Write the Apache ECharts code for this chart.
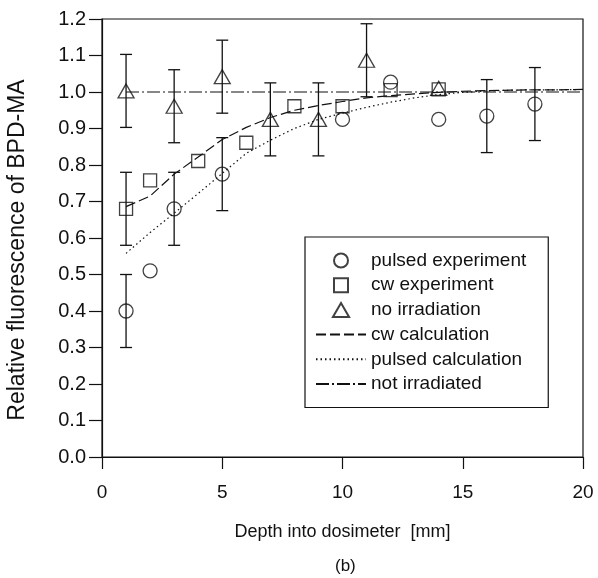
<!DOCTYPE html>
<html>
<head>
<meta charset="utf-8">
<script src="https://cdn.jsdelivr.net/npm/echarts@6/dist/echarts.min.js"></script>
<style>html,body{margin:0;padding:0;background:#fff}#c{width:598px;height:578px}</style>
</head>
<body>
<div id="c"></div>
<script>
// ---- data ----
const xTicks = [0, 5, 10, 15, 20];
const yTicks = [0.0, 0.1, 0.2, 0.3, 0.4, 0.5, 0.6, 0.7, 0.8, 0.9, 1.0, 1.1, 1.2];

const pulsedX = [1, 2, 3, 5, 10, 12, 14, 16, 18];
const pulsedY = [0.40, 0.51, 0.68, 0.775, 0.925, 1.027, 0.925, 0.934, 0.967];
const pulsedErr = [0.1, null, 0.1, 0.1, null, null, null, 0.1, 0.1];

const cwX = [1, 2, 4, 6, 8, 10, 12, 14];
const cwY = [0.68, 0.758, 0.811, 0.861, 0.961, 0.961, 1.005, 1.007];
const cwErr = [0.1, null, null, null, null, null, null, null];

const noIrrX = [1, 3, 5, 7, 9, 11, 14];
const noIrrY = [1.003, 0.961, 1.042, 0.925, 0.925, 1.087, 1.01];
const noIrrErr = [0.1, 0.1, 0.1, 0.1, 0.1, 0.1, null];

const calcX = [1, 2, 3, 4, 5, 6, 7, 8, 9, 10, 11, 12, 13, 14, 15, 16, 17, 18, 19, 20];
const cwCalc = [0.686, 0.715, 0.775, 0.822, 0.87, 0.903, 0.93, 0.95, 0.963, 0.974, 0.984, 0.99, 0.995, 0.999, 1.002, 1.004, 1.005, 1.006, 1.006, 1.007];
const pulsedCalc = [0.558, 0.615, 0.668, 0.722, 0.777, 0.832, 0.868, 0.9, 0.925, 0.942, 0.958, 0.972, 0.984, 0.993, 0.999, 1.003, 1.005, 1.006, 1.006, 1.007];

const notIrrX = [1, 20];
const notIrrY = [1.0, 1.0];

const seriesNames = ['pulsed experiment', 'cw experiment', 'no irradiation', 'cw calculation', 'pulsed calculation', 'not irradiated'];
const xTitle = 'Depth into dosimeter  [mm]';
const yTitle = 'Relative fluorescence of BPD-MA';
const panelLabel = '(b)';

// ---- helpers ----
const zip = (xs, ys) => xs.map((x, i) => [x, ys[i]]);
const errData = (xs, ys, es) => xs.map((x, i) => es[i] == null ? null : [x, ys[i] - es[i], ys[i] + es[i]]).filter(d => d);

const INK = '#111';
const FONT = '"Liberation Sans", Arial, Helvetica, sans-serif';
const CLEAR = 'rgba(0,0,0,0)';

function errRender(params, api) {
  const x = api.value(0);
  const lo = api.coord([x, api.value(1)]);
  const hi = api.coord([x, api.value(2)]);
  const w = 6;
  const st = { stroke: INK, lineWidth: 1.3 };
  return {
    type: 'group',
    children: [
      { type: 'line', shape: { x1: lo[0], y1: lo[1], x2: hi[0], y2: hi[1] }, style: st },
      { type: 'line', shape: { x1: lo[0] - w, y1: lo[1], x2: lo[0] + w, y2: lo[1] }, style: st },
      { type: 'line', shape: { x1: hi[0] - w, y1: hi[1], x2: hi[0] + w, y2: hi[1] }, style: st }
    ]
  };
}

const hollow = { color: CLEAR, borderColor: INK, borderWidth: 1.3 };
const RECT_ICON = 'path://M0,0L10,0L10,10L0,10Z';
const TRI_ICON = 'path://M6,0L12,10.4L0,10.4Z';

const chart = echarts.init(document.getElementById('c'), null, { renderer: 'canvas' });
chart.setOption({
  animation: false,
  backgroundColor: '#fff',
  textStyle: { fontFamily: FONT, color: INK },
  grid: { left: 102, right: 15, top: 19, bottom: 121, show: true, borderColor: INK, borderWidth: 1.2 },
  title: {
    text: panelLabel, left: 330, top: 553,
    textStyle: { fontFamily: FONT, fontWeight: 'normal', fontSize: 17, color: INK }
  },
  graphic: [{
    type: 'text', x: 18, y: 250, rotation: Math.PI / 2,
    style: { text: yTitle, fill: INK, font: '23px "Liberation Sans", Arial, sans-serif', textAlign: 'center', textVerticalAlign: 'middle' }
  }],
  legend: {
    data: [
      { name: seriesNames[0], icon: 'circle' },
      { name: seriesNames[1], icon: RECT_ICON },
      { name: seriesNames[2], icon: TRI_ICON },
      { name: seriesNames[3] },
      { name: seriesNames[4] },
      { name: seriesNames[5] }
    ],
    orient: 'vertical',
    left: 305, top: 237,
    padding: [14, 22, 14, 10],
    itemWidth: 50, itemHeight: 14, itemGap: 5.7,
    symbolKeepAspect: true,
    borderColor: INK, borderWidth: 1.2,
    backgroundColor: '#fff',
    textStyle: { fontFamily: FONT, fontSize: 19, color: INK },
    inactiveColor: INK
  },
  xAxis: {
    type: 'value', min: 0, max: 20, interval: 5,
    name: xTitle, nameLocation: 'middle', nameGap: 66,
    nameTextStyle: { fontFamily: FONT, fontSize: 18, color: INK },
    axisLine: { lineStyle: { color: INK, width: 1.2 } },
    axisTick: { show: true, inside: false, length: 12, lineStyle: { color: INK, width: 1.2 } },
    axisLabel: { margin: 26, fontFamily: FONT, fontSize: 19, color: INK },
    splitLine: { show: false }
  },
  yAxis: {
    type: 'value', min: 0, max: 1.2, interval: 0.1,
    axisLine: { show: true, lineStyle: { color: INK, width: 1.2 } },
    axisTick: { show: true, inside: false, length: 13, lineStyle: { color: INK, width: 1.2 } },
    axisLabel: { margin: 16, fontFamily: FONT, fontSize: 20, color: INK, formatter: v => v.toFixed(1) },
    splitLine: { show: false }
  },
  series: [
    {
      name: 'not irradiated', type: 'line', data: zip(notIrrX, notIrrY), symbol: 'none',
      itemStyle: { color: CLEAR },
      lineStyle: { color: INK, width: 1.2, type: [13, 3, 2, 3] }, z: 2
    },
    {
      name: 'cw calculation', type: 'line', data: zip(calcX, cwCalc), symbol: 'none',
      itemStyle: { color: CLEAR },
      lineStyle: { color: INK, width: 1.2, type: [10, 4] }, z: 2
    },
    {
      name: 'pulsed calculation', type: 'line', data: zip(calcX, pulsedCalc), symbol: 'none',
      itemStyle: { color: CLEAR },
      lineStyle: { color: INK, width: 1.2, type: [1.5, 3] }, z: 2
    },
    { type: 'custom', renderItem: errRender, data: errData(pulsedX, pulsedY, pulsedErr), z: 3, silent: true },
    { type: 'custom', renderItem: errRender, data: errData(cwX, cwY, cwErr), z: 3, silent: true },
    { type: 'custom', renderItem: errRender, data: errData(noIrrX, noIrrY, noIrrErr), z: 3, silent: true },
    {
      name: 'pulsed experiment', type: 'scatter', data: zip(pulsedX, pulsedY),
      symbol: 'circle', symbolSize: 14, itemStyle: hollow, z: 4
    },
    {
      name: 'cw experiment', type: 'scatter', data: zip(cwX, cwY),
      symbol: 'rect', symbolSize: 13, itemStyle: hollow, z: 4
    },
    {
      name: 'no irradiation', type: 'scatter', data: zip(noIrrX, noIrrY),
      symbol: 'triangle', symbolSize: [16, 14], itemStyle: hollow, z: 4
    }
  ]
});
</script>
</body>
</html>
